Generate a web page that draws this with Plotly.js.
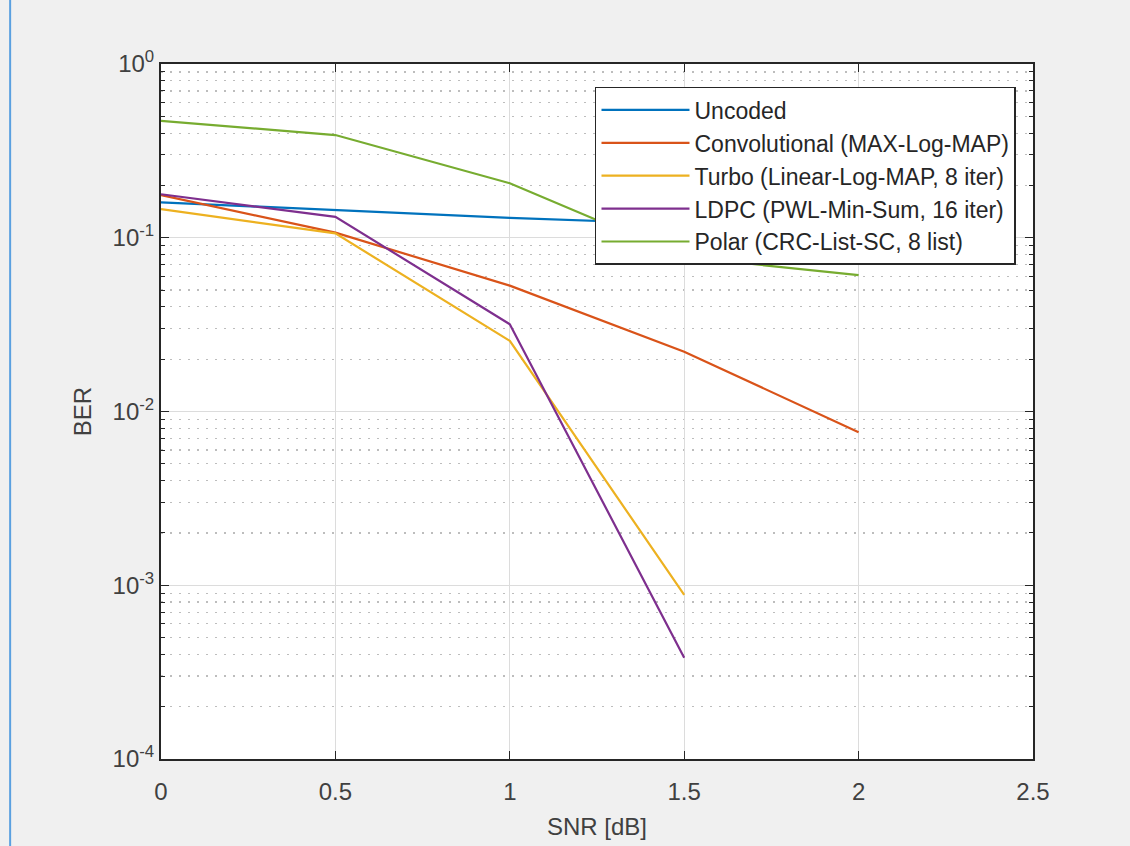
<!DOCTYPE html>
<html>
<head>
<meta charset="utf-8">
<script src="https://cdn.plot.ly/plotly-3.0.1.min.js"></script>
<style>html,body{margin:0;padding:0;background:#f0f0f0;}#chart{width:1130px;height:846px;}</style>
</head>
<body>
<div id="chart"></div>
<script>
// Data
const snr = [0, 0.5, 1, 1.5, 2];
const uncoded = [0.160, 0.144, 0.130, 0.120, 0.105];
const convolutional = [0.176, 0.107, 0.053, 0.0221, 0.0076];
const turbo = [0.146, 0.106, 0.0255, 0.00088];
const ldpc = [0.178, 0.132, 0.0318, 0.000383];
const polar = [0.47, 0.39, 0.206, 0.0775, 0.061];
const seriesNames = [
  "Uncoded",
  "Convolutional (MAX-Log-MAP)",
  "Turbo (Linear-Log-MAP, 8 iter)",
  "LDPC (PWL-Min-Sum, 16 iter)",
  "Polar (CRC-List-SC, 8 list)"
];
const colors = ["#0072BD", "#D95319", "#EDB120", "#7E2F8E", "#77AC30"];
const yTickVals = [1, 0.1, 0.01, 0.001, 0.0001];
const yTickText = ["10<sup>0</sup>", "10<sup>-1</sup>", "10<sup>-2</sup>", "10<sup>-3</sup>", "10<sup>-4</sup>"];
const xTickVals = [0, 0.5, 1, 1.5, 2, 2.5];
const xTickText = ["0", "0.5", "1", "1.5", "2", "2.5"];

const minorVals = [];
for (let e = -4; e < 0; e++) {
  for (let m = 2; m <= 9; m++) minorVals.push(m * Math.pow(10, e));
}

const ys = [uncoded, convolutional, turbo, ldpc, polar];
const traces = ys.map((y, i) => ({
  x: snr.slice(0, y.length),
  y: y,
  type: "scatter",
  mode: "lines",
  name: seriesNames[i],
  line: {color: colors[i], width: 2.2}
}));

const fontFam = "Liberation Sans, Arial, sans-serif";
const layout = {
  width: 1130,
  height: 846,
  paper_bgcolor: "#f0f0f0",
  plot_bgcolor: "#ffffff",
  margin: {l: 161, r: 97, t: 64, b: 87},
  showlegend: true,
  font: {family: fontFam, color: "#262626"},
  legend: {
    x: 0.9805, xanchor: "right",
    y: 0.967, yanchor: "top",
    bgcolor: "#ffffff",
    bordercolor: "#262626",
    borderwidth: 1.5,
    font: {family: fontFam, size: 23, color: "#262626"},
    itemwidth: 88
  },
  xaxis: {
    range: [0, 2.5],
    tickmode: "array",
    tickvals: xTickVals,
    ticktext: xTickText,
    ticks: "inside",
    ticklen: 8,
    tickcolor: "#262626",
    ticklabelstandoff: 10,
    showline: true,
    linecolor: "#262626",
    linewidth: 2,
    mirror: "ticks",
    showgrid: true,
    gridcolor: "#dcdcdc",
    gridwidth: 1,
    zeroline: false,
    tickfont: {size: 24, color: "#404040"},
    title: {text: "SNR [dB]", font: {size: 24, color: "#404040"}, standoff: 14}
  },
  yaxis: {
    type: "log",
    range: [-4, 0],
    tickmode: "array",
    tickvals: yTickVals,
    ticktext: yTickText,
    ticks: "inside",
    ticklen: 8,
    tickcolor: "#262626",
    showline: true,
    linecolor: "#262626",
    linewidth: 2,
    mirror: "ticks",
    showgrid: true,
    gridcolor: "#dcdcdc",
    gridwidth: 1,
    zeroline: false,
    tickfont: {size: 24, color: "#404040"},
    title: {text: "BER", font: {size: 24, color: "#404040"}, standoff: 14},
    minor: {
      tickmode: "array",
      tickvals: minorVals,
      ticks: "inside",
      ticklen: 4,
      tickcolor: "#262626",
      showgrid: true,
      gridcolor: "#bdbdbd",
      griddash: "2px,7px",
      gridwidth: 1.2
    }
  },
  shapes: [{
    type: "line", xref: "paper", yref: "paper",
    x0: -0.173, x1: -0.173, y0: -0.125, y1: 1.092,
    line: {color: "#5aa0e0", width: 2}
  }]
};

Plotly.newPlot("chart", traces, layout, {displayModeBar: false, staticPlot: true});
</script>
</body>
</html>
